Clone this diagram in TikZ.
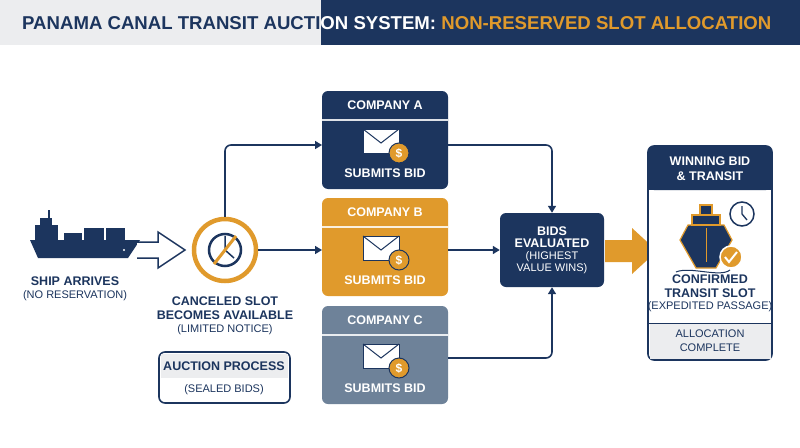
\documentclass[tikz,border=0pt]{standalone}
\usepackage{fontspec}
\setmainfont{Liberation Sans}
\usetikzlibrary{arrows.meta}
\definecolor{navy}{HTML}{1C355E}
\definecolor{org}{HTML}{E09A2C}
\definecolor{slate}{HTML}{6E8299}
\definecolor{lgray}{HTML}{ECEDEF}
\begin{document}
\begin{tikzpicture}[x=1pt,y=-1pt,
  conn/.style={navy,line width=1.6pt,-{Triangle[length=7pt,width=8pt]},rounded corners=6pt},
  bt/.style={font=\bfseries\fontsize{12.5}{14}\selectfont},
  st/.style={font=\fontsize{11}{13}\selectfont},
  tt/.style={anchor=west,inner sep=0,font=\bfseries\fontsize{18.6}{20}\selectfont},
  env/.pic={
    \draw[navy,line width=1pt,fill=white] (-20,-12) rectangle (16,12);
    \draw[navy,line width=1pt] (-20,-12) -- (-2,2) -- (16,-12);
    \fill[org,draw=navy,line width=1pt] (16,12) circle (10);
    \node[white,font=\bfseries\fontsize{12}{12}\selectfont] at (16,12) {\$};
  }]
\useasboundingbox (0,0) rectangle (800,447);
\fill[white] (0,0) rectangle (800,447);
\fill[lgray] (0,0) rectangle (321,45);
\fill[navy] (321,0) rectangle (800,45);
\begin{scope}
\clip (0,0) rectangle (321,45);
\node[tt] (title) at (22,23) {\textcolor{navy}{PANAMA CANAL TRANSIT AUCTION SYSTEM:} \textcolor{org}{NON-RESERVED SLOT ALLOCATION}};
\end{scope}
\begin{scope}
\clip (321,0) rectangle (800,45);
\node[tt] (title2) at (22,23) {\textcolor{white}{PANAMA CANAL TRANSIT AUCTION SYSTEM:} \textcolor{org}{NON-RESERVED SLOT ALLOCATION}};
\end{scope}
% ship
\fill[navy] (30,240) -- (140,240) -- (128,258) -- (38,258) -- cycle;
\fill[navy] (35,225) rectangle (58,240);
\fill[navy] (40,218) rectangle (52,225);
\fill[navy] (48,210) rectangle (50,218);
\fill[navy] (64,233) rectangle (82,240);
\fill[navy] (84,228) rectangle (104,240);
\fill[navy] (106,228) rectangle (125,240);
\fill[white] (124,250) circle (1.2);
\node[bt,navy] (ship) at (75,281) {SHIP ARRIVES};
\node[st,navy] (shipsub) at (75,296) {(NO RESERVATION)};
% hollow arrow
\draw[navy,line width=1.5pt,fill=white] (137,242) -- (158,242) -- (158,232) -- (185,250) -- (158,268) -- (158,258) -- (137,258);
% circle
\node[circle,draw=org,line width=4.5pt,minimum size=62pt,fill=white] (slot) at (225,250) {};
\draw[navy,line width=2.5pt] (slot.center) circle (16);
\draw[navy,line width=1.5pt] (225,236) -- (225,250) -- (234,258);
\draw[org,line width=3pt] (236,236) -- (214,264);
\node[bt,navy] (slott) at (225,301) {CANCELED SLOT};
\node[bt,navy] (slott2) at (225,315) {BECOMES AVAILABLE};
\node[st,navy] (slots) at (225,330) {(LIMITED NOTICE)};
% auction
\draw[navy,line width=1.6pt,rounded corners=6pt,fill=white] (159,352) rectangle (290,403);
\fill[lgray] (161,354) rectangle (288,378);
\node[bt,navy] (auc) at (224,366) {AUCTION PROCESS};
\node[st,navy] (aucs) at (224,390) {(SEALED BIDS)};
% companies
\foreach \n/\y/\c in {A/91/navy,B/198/org,C/306/slate}{
  \fill[\c,rounded corners=6pt] (322,\y) rectangle (448,\y+98);
  \draw[white!85!\c,line width=1.2pt] (322,\y+29) -- (448,\y+29);
  \node[bt,white] (co\n) at (385,\y+14) {COMPANY \n};
  \pic at (383,\y+50) {env};
  \node[bt,white] (sb\n) at (385,\y+82) {SUBMITS BID};
}
\coordinate (Ain) at (322,145);
\coordinate (Bin) at (322,250);
% bids
\node[fill=navy,rounded corners=6pt,minimum width=104pt,minimum height=74pt,align=center,text=white,inner sep=2pt] (bids) at (552,250)
 {\bfseries\fontsize{12.5}{14}\selectfont BIDS\\\bfseries\fontsize{12.5}{14}\selectfont EVALUATED\\\fontsize{11}{13}\selectfont (HIGHEST\\\fontsize{11}{13}\selectfont VALUE WINS)};
\draw[conn] (slot.north) |- (Ain);
\draw[conn] (slot.east) -- (Bin);
\draw[conn] (448,145) -| (bids.north);
\draw[conn] (448,250) -- (bids.west);
\draw[conn] (448,358) -| (bids.south);
% orange arrow
\fill[org] (605,240) -- (632,240) -- (632,228) -- (657,251) -- (632,274) -- (632,262) -- (605,262) -- cycle;
% right panel
\draw[navy,line width=1.6pt,rounded corners=6pt,fill=white] (648,146) rectangle (772,360);
\fill[navy,rounded corners=6pt] (648,146) rectangle (772,190);
\fill[navy] (648,175) rectangle (772,190);
\fill[lgray] (649.5,323) rectangle (770.5,358.5);
\draw[navy,line width=1pt] (648,323) -- (772,323);
\node[bt,white] (win) at (710,161) {WINNING BID};
\node[bt,white] (win2) at (710,176) {\& TRANSIT};
% ship icon
\fill[navy,draw=org,line width=1.2pt] (688,225) -- (724,225) -- (732,240) -- (716,268) -- (696,268) -- (680,240) -- cycle;
\fill[navy,draw=org,line width=1.2pt] (692,215) rectangle (720,225);
\fill[navy,draw=org,line width=1.2pt] (700,205) rectangle (712,215);
\draw[org,line width=1pt] (706,228) -- (706,262);
\draw[navy,line width=1pt] (676,272) .. controls (690,266) and (720,278) .. (730,270);
\fill[org,draw=white,line width=1.5pt] (731,257) circle (11);
\draw[white,line width=2pt] (725,257) -- (729,262) -- (737,252);
\draw[navy,line width=1.5pt,fill=white] (742,214) circle (12);
\draw[navy,line width=1.3pt] (742,206) -- (742,214) -- (747,220);
\node[bt,navy] (conf) at (710,279) {CONFIRMED};
\node[bt,navy] (conf2) at (710,293) {TRANSIT SLOT};
\node[st,navy] (confs) at (710,307) {(EXPEDITED PASSAGE)};
\node[st,navy] (alloc) at (710,334) {ALLOCATION};
\node[st,navy] (alloc2) at (710,348) {COMPLETE};
\end{tikzpicture}
\end{document}
